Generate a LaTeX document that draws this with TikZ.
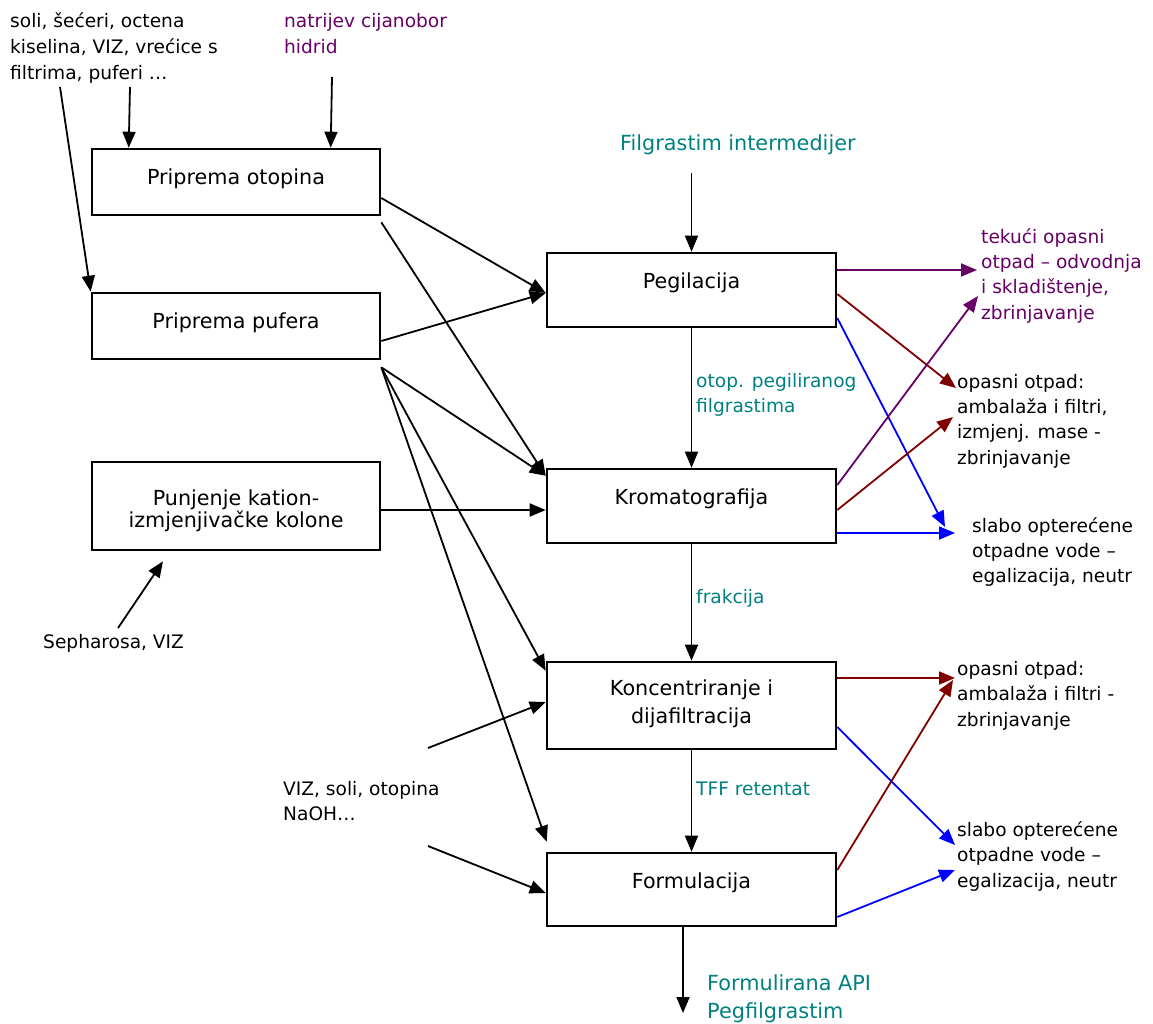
\documentclass[tikz,border=0pt]{standalone}
\usepackage{fontspec}
\setmainfont{DejaVu Sans}
\usetikzlibrary{arrows.meta}
\definecolor{tealc}{RGB}{0,128,128}
\definecolor{purc}{RGB}{102,0,102}
\definecolor{redc}{RGB}{128,0,0}
\definecolor{bluec}{RGB}{0,0,255}
\newcommand{\fr}[1]{\rule{0pt}{#1pt}}
\begin{document}
\begin{tikzpicture}[x=1pt,y=-1pt,
  box/.style={draw, line width=2.6pt, inner sep=0pt, minimum width=288pt},
  btxt/.style={font=\fontsize{20.7}{28}\selectfont, inner sep=0pt, align=center},
  stxt/.style={font=\fontsize{18.6}{25.5}\selectfont, inner sep=0pt, align=left, anchor=north west},
  sone/.style={font=\fontsize{18.6}{25.5}\selectfont, inner sep=0pt, anchor=base west},
  bteal/.style={font=\fontsize{20.8}{28}\selectfont, inner sep=0pt, align=left, text=tealc},
  arr/.style={line width=1.8pt, -{Triangle[length=16pt,width=13pt]}},
]
\useasboundingbox (0,0) rectangle (1153,1023);

% boxes
\node[box, minimum height=66pt] (po) at (236,182) {};
\node[box, minimum height=66pt] (pp) at (236,326) {};
\node[box, minimum height=88pt] (pk) at (236,506) {};
\node[box, minimum width=289pt, minimum height=74pt] (peg) at (691.5,290) {};
\node[box, minimum width=289pt, minimum height=74pt] (kro) at (691.5,506) {};
\node[box, minimum width=289pt, minimum height=87pt] (kon) at (691.5,705.5) {};
\node[box, minimum width=289pt, minimum height=73pt] (frm) at (691.5,889.5) {};

% box texts
\node[btxt, anchor=base] (tpo) at (236,184) {Priprema otopina};
\node[btxt, anchor=base] (tpp) at (236,328) {Priprema pufera};
\node[btxt, anchor=north, font=\fontsize{20.7}{22}\selectfont] (tpk) at (236,488) {\fr{17}Punjenje kation-\\izmjenjivačke kolone};
\node[btxt, anchor=base] (tpeg) at (691.5,288) {Pegilacija};
\node[btxt, anchor=base] (tkro) at (691.5,504) {Kromatografija};
\node[btxt, anchor=north] (tkon) at (691.5,678) {\fr{17}Koncentriranje i\\dijafiltracija};
\node[btxt, anchor=base] (tfrm) at (691.5,888) {Formulacija};

% free texts
\node[stxt, font=\fontsize{18.6}{26}\selectfont] (t1) at (10,12) {\fr{15}soli, šećeri, octena\\kiselina, VIZ, vrećice s\\filtrima, puferi …};
\node[stxt, font=\fontsize{18.6}{26}\selectfont, text=purc] (t2) at (284,12) {\fr{15}natrijev cijanobor\\hidrid};
\node[bteal, anchor=base west] (tfil) at (620,150) {Filgrastim intermedijer};
\node[stxt, text=tealc, font=\fontsize{18.6}{25}\selectfont] (totop) at (696,372) {\fr{15}otop. pegiliranog\\filgrastima};
\node[sone, text=tealc] (tfrak) at (696,603) {frakcija};
\node[sone, text=tealc] (ttff) at (696,795) {TFF retentat};
\node[stxt, font=\fontsize{18.6}{25}\selectfont] (tviz) at (283,780) {\fr{15}VIZ, soli, otopina\\NaOH…};
\node[sone] (tseph) at (43,648) {Sepharosa, VIZ};
\node[bteal, anchor=north west] (tform) at (707,973) {\fr{17}Formulirana API\\Pegfilgrastim};

\node[stxt, text=purc, font=\fontsize{18.6}{25.3}\selectfont] (r1) at (981,228) {\fr{15}tekući opasni\\otpad – odvodnja\\i skladištenje,\\zbrinjavanje};
\node[stxt, font=\fontsize{18.6}{25.3}\selectfont] (r2) at (957,373) {\fr{15}opasni otpad:\\ambalaža i filtri,\\izmjenj. mase -\\zbrinjavanje};
\node[stxt, font=\fontsize{18.6}{25.3}\selectfont] (r3) at (972,517) {\fr{15}slabo opterećene\\otpadne vode –\\egalizacija, neutr};
\node[stxt, font=\fontsize{18.6}{25.5}\selectfont] (r4) at (957,660) {\fr{15}opasni otpad:\\ambalaža i filtri -\\zbrinjavanje};
\node[stxt, font=\fontsize{18.6}{25.5}\selectfont] (r5) at (957,821) {\fr{15}slabo opterećene\\otpadne vode –\\egalizacija, neutr};

% free-end coordinates
\coordinate (c1) at (60,87);
\coordinate (c2) at (130,87);
\coordinate (c3) at (332,77);
\coordinate (cfil) at (691.5,173);
\coordinate (cseph) at (118,628);
\coordinate (cviz1) at (428,748);
\coordinate (cviz2) at (428,846);
\coordinate (cout) at (683,1013);
\coordinate (e1) at (977,270);
\coordinate (e2) at (956,388);
\coordinate (e3) at (945,527);
\coordinate (e4) at (978,296);
\coordinate (e5) at (953,417);
\coordinate (e6) at (955,533);
\coordinate (e7) at (955,678);
\coordinate (e8) at (955,845);
\coordinate (e9) at (953,680);
\coordinate (e10) at (955,870);

% input arrows
\draw[arr] (c1) -- (pp.north west);
\draw[arr] (c2) -- ([xshift=38pt]po.north west);
\draw[arr] (c3) -- ([xshift=240pt]po.north west);
\draw[arr] ([yshift=-16pt]po.east) -- ([yshift=-3pt]peg.west);
\draw[arr] ([yshift=-6pt]po.south east) -- ([yshift=-8pt]kro.north west);
\draw[arr] ([yshift=-15pt]pp.east) -- ([yshift=-3pt]peg.west);
\draw[arr] ([yshift=-7pt]pp.south east) -- ([yshift=-8pt]kro.north west);
\draw[arr] ([yshift=-7pt]pp.south east) -- ([yshift=-10pt]kon.north west);
\draw[arr] ([yshift=-7pt]pp.south east) -- ([xshift=1pt,yshift=10pt]frm.north west);
\draw[arr] ([yshift=-4pt]pk.east) -- ([yshift=-4pt]kro.west);
\draw[arr] (cseph) -- ([xshift=-73pt,yshift=-10pt]pk.south);
\draw[arr] (cviz1) -- ([yshift=3.5pt]kon.west);
\draw[arr] (cviz2) -- ([yshift=-3.5pt]frm.west);

% main chain
\draw[arr] (cfil) -- (peg.north);
\draw[arr] (peg.south) -- (kro.north);
\draw[arr] (kro.south) -- (kon.north);
\draw[arr] (kon.south) -- (frm.north);
\draw[arr] ([xshift=-8.5pt]frm.south) -- (cout);

% outputs
\draw[arr, purc] ([yshift=20pt]peg.east) -- (e1);
\draw[arr, redc] ([yshift=-4pt]peg.east) -- (e2);
\draw[arr, bluec] ([yshift=-28pt]peg.east) -- (e3);
\draw[arr, purc] ([yshift=21pt]kro.east) -- (e4);
\draw[arr, redc] ([yshift=-4pt]kro.east) -- (e5);
\draw[arr, bluec] ([yshift=-27pt]kro.east) -- (e6);
\draw[arr, redc] ([yshift=27.5pt]kon.east) -- (e7);
\draw[arr, bluec] ([yshift=-21.5pt]kon.east) -- (e8);
\draw[arr, redc] ([yshift=19.5pt]frm.east) -- (e9);
\draw[arr, bluec] ([yshift=-27.5pt]frm.east) -- (e10);
\end{tikzpicture}
\end{document}
